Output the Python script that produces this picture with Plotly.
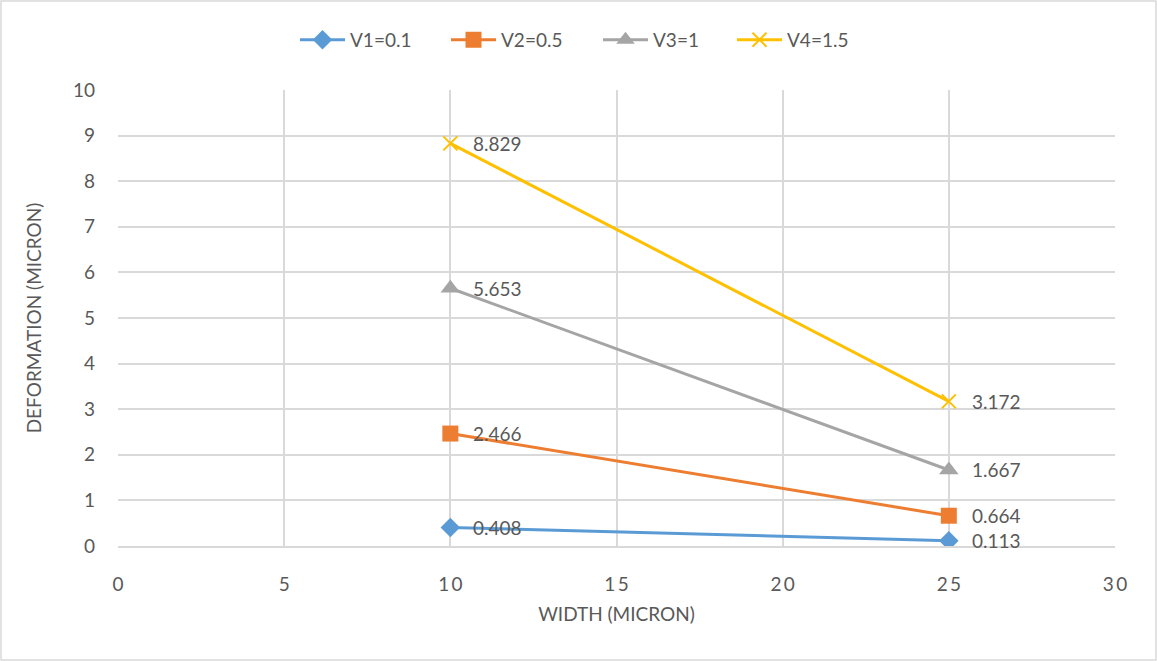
import plotly.graph_objects as go

# Beam width (micron) and deformation (micron) for each applied voltage
widths = [10, 25]
series_names = ["V1=0.1", "V2=0.5", "V3=1", "V4=1.5"]
v1_deform = [0.408, 0.113]
v2_deform = [2.466, 0.664]
v3_deform = [5.653, 1.667]
v4_deform = [8.829, 3.172]

x_ticks = [0, 5, 10, 15, 20, 25, 30]
y_ticks = list(range(0, 11))

colors = ["#5B9BD5", "#ED7D31", "#A5A5A5", "#FFC000"]
symbols = ["diamond", "square", "triangle-up", "x-thin"]
marker_sizes = [15, 16, 17, 14]
legend_widths = [91, 92, 74, 74]
text_gray = "#595959"
font_family = "Lato, 'Open Sans', sans-serif"
fs = 19

fig = go.Figure()
for name, ys, col, sym, ms, lw in zip(series_names, [v1_deform, v2_deform, v3_deform, v4_deform],
                                      colors, symbols, marker_sizes, legend_widths):
    marker = dict(symbol=sym, size=ms, color=col)
    if sym == "x-thin":
        marker["line"] = dict(color=col, width=2)
    fig.add_trace(go.Scatter(
        x=widths, y=ys, name=name, mode="lines+markers",
        line=dict(color=col, width=3), marker=marker, legendwidth=lw,
    ))
    for xv, yv in zip(widths, ys):
        fig.add_annotation(x=xv, y=yv, text=f"{yv:.3f}", showarrow=False,
                           xanchor="left", xshift=21, yshift=0,
                           font=dict(size=fs, color=text_gray, family=font_family))

grid = "#D9D9D9"
fig.update_layout(
    width=1157, height=661,
    margin=dict(l=118, r=42, t=90, b=115),
    paper_bgcolor="white", plot_bgcolor="white",
    font=dict(family=font_family, color=text_gray, size=fs),
    legend=dict(orientation="h", x=(295 - 118) / 997, xanchor="left", y=1.11, yanchor="middle",
                font=dict(size=fs, color=text_gray), itemwidth=45),
    xaxis=dict(range=[0, 30], tickvals=x_ticks,
               ticktext=["\u2009".join(str(v)) for v in x_ticks],
               showgrid=True, gridcolor=grid, gridwidth=1.5,
               zeroline=False, showline=True, linecolor=grid, linewidth=1.5, ticks="",
               ticklabelstandoff=20,
               title=dict(text="WIDTH (MICRON)", font=dict(size=fs, color=text_gray), standoff=14)),
    yaxis=dict(range=[0, 10], tickvals=y_ticks, showgrid=True, gridcolor=grid, gridwidth=1.5,
               zeroline=False, showline=False, ticks="",
               ticklabelstandoff=22,
               title=dict(text="DEFORMATION (MICRON)", font=dict(size=fs, color=text_gray), standoff=26)),
    shapes=[dict(type="rect", xref="paper", yref="paper",
                 x0=(1 - 118) / 997, x1=(1156 - 118) / 997,
                 y0=(546 - 660) / 456, y1=(546 - 1) / 456,
                 line=dict(color="#D9D9D9", width=1.5))],
)

fig.write_html("out.html")
